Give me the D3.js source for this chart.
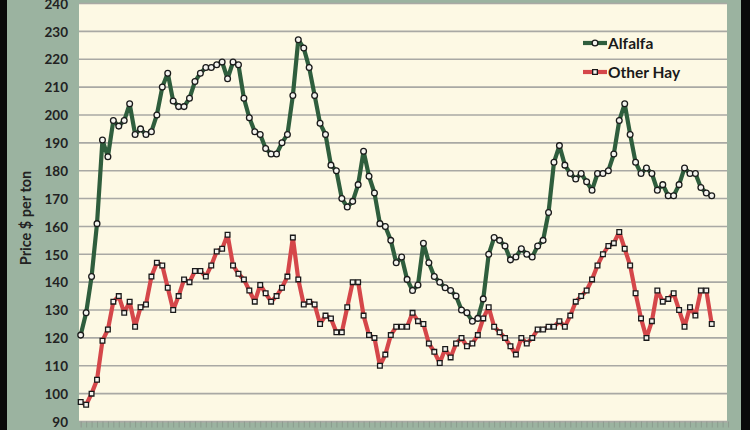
<!DOCTYPE html>
<html><head><meta charset="utf-8">
<script src="https://cdn.jsdelivr.net/npm/d3@7"></script>
<style>
html,body{margin:0;padding:0;background:#9bb3a0;}
svg{display:block;}
</style></head>
<body>
<svg id="chart" width="750" height="430"></svg>
<script>
const alfalfa = [121,129,142,161,191,185,198,196,198,204,193,195,193,194,200,210,215,205,203,203,
206,212,215,217,217,218,219,213,219,218,206,199,194,193,188,186,186,190,193,207,
227,224,217,207,197,193,182,180,170,167,169,175,187,178,172,161,160,155,147,149,
141,137,139,154,147,142,140,138,137,135,130,129,126,127,134,150,156,155,153,148,
149,152,150,149,153,155,165,183,189,182,179,177,179,176,173,179,179,180,186,198,
204,193,183,179,181,179,173,175,171,171,175,181,179,179,174,172,171];
const otherHay = [97,96,100,105,119,123,133,135,129,133,124,131,132,142,147,146,138,130,135,141,
140,144,144,142,146,151,152,157,146,143,141,137,133,139,136,133,135,138,142,156,
141,132,133,132,125,128,127,122,122,131,140,140,128,121,120,110,114,121,124,124,
124,129,126,125,118,115,111,116,113,118,120,117,118,121,127,131,124,122,120,117,
114,120,118,120,123,123,124,124,126,124,128,133,135,137,141,146,150,153,154,158,
152,146,136,127,120,126,137,133,134,136,130,124,131,128,137,137,125];
const yTicks = [90,100,110,120,130,140,150,160,170,180,190,200,210,220,230,240];
const seriesNames = ["Alfalfa","Other Hay"];
const nSlots = 120;

const svg = d3.select("#chart");
const W = 750, H = 430;
const plot = {left:79, right:727, top:3.5, bottom:421.5};

svg.append("rect").attr("width",W).attr("height",H).attr("fill","#9bb3a0");
svg.append("rect").attr("x",0).attr("y",0).attr("width",7).attr("height",H).attr("fill","#0a0a0a");
svg.append("rect").attr("x",741).attr("y",0).attr("width",9).attr("height",H).attr("fill","#0a0a0a");
svg.append("rect").attr("x",plot.left).attr("y",plot.top).attr("width",plot.right-plot.left)
  .attr("height",plot.bottom-plot.top).attr("fill","#fdf9e4");

const x = d3.scaleLinear().domain([0, nSlots-1]).range([80.7, 80.7 + (nSlots-1)*5.44]);
const y = d3.scaleLinear().domain([90,240]).range([plot.bottom, plot.top]);

svg.append("g").selectAll("line").data(yTicks).join("line")
  .attr("x1",plot.left).attr("x2",plot.right)
  .attr("y1",d=>y(d)).attr("y2",d=>y(d))
  .attr("stroke","#a9a9a4").attr("stroke-width",1.6);

const yAxis = d3.axisLeft(y).tickValues(yTicks).tickSize(0).tickPadding(0);
const gy = svg.append("g").attr("transform",`translate(68,0)`).call(yAxis);
gy.select(".domain").remove();
gy.selectAll("text").attr("font-family","Lato, 'Open Sans', sans-serif").attr("font-weight","bold")
  .attr("font-size","13.5px").attr("fill","#222").attr("dy","0.35em");

const xAxis = d3.axisBottom(x).tickValues(d3.range(nSlots)).tickSize(6).tickFormat("");
const gx = svg.append("g").attr("transform",`translate(0,${plot.bottom})`).call(xAxis);
gx.select(".domain").attr("stroke","#a9a9a4").attr("stroke-width",1.2);
gx.selectAll(".tick line").attr("stroke","#8c9c8e").attr("stroke-width",1);

svg.append("text").attr("transform","translate(31,218) rotate(-90)")
  .attr("text-anchor","middle").attr("font-family","Lato, 'Open Sans', sans-serif")
  .attr("font-weight","bold").attr("font-size","14.5px").attr("fill","#222")
  .text("Price $ per ton");

const line = d3.line().x((d,i)=>x(i)).y(d=>y(d));
const colors = ["#2f5e3d","#d5474a"];

function drawSeries(data, color, shape){
  svg.append("path").datum(data).attr("d",line).attr("fill","none")
    .attr("stroke",color).attr("stroke-width",4.2).attr("stroke-linejoin","round");
  const sym = d3.symbol().type(shape).size(shape===d3.symbolSquare?22:26);
  svg.append("g").selectAll("path").data(data).join("path")
    .attr("transform",(d,i)=>`translate(${x(i)},${y(d)})`)
    .attr("d",sym).attr("fill","#f4f4ef").attr("stroke","#1a1a1a").attr("stroke-width",1.3);
}
drawSeries(alfalfa, colors[0], d3.symbolCircle);
drawSeries(otherHay, colors[1], d3.symbolSquare);

const legend = svg.append("g");
seriesNames.forEach((name,i)=>{
  const ly = 43 + i*29;
  legend.append("line").attr("x1",583).attr("x2",607).attr("y1",ly).attr("y2",ly)
    .attr("stroke",colors[i]).attr("stroke-width",4.2);
  const sym = d3.symbol().type(i===0?d3.symbolCircle:d3.symbolSquare).size(i===0?26:22);
  legend.append("path").attr("transform",`translate(595,${ly})`).attr("d",sym)
    .attr("fill","#f4f4ef").attr("stroke","#1a1a1a").attr("stroke-width",1.3);
  legend.append("text").attr("x",608).attr("y",ly).attr("dy","0.36em")
    .attr("font-family","Lato, 'Open Sans', sans-serif").attr("font-weight","bold")
    .attr("font-size","15.5px").attr("fill","#1a1a1a").text(name);
});
</script>
</body></html>
